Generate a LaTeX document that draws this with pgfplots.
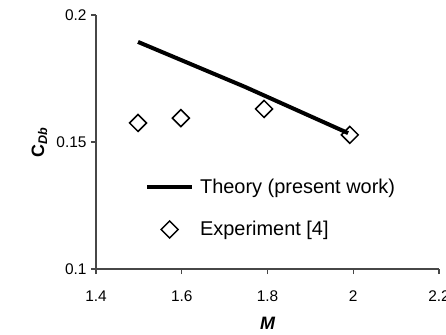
\documentclass[border=0pt]{standalone}
\usepackage{pgfplots}
\pgfplotsset{compat=1.18}
\usepackage{fontspec}
\setmainfont{Liberation Sans}
\pgfplotsset{
  longline/.style={legend image code/.code={\draw[##1] (0bp,0bp) -- (45bp,0bp);}},
  longmark/.style={legend image code/.code={\draw[mark repeat=2,mark phase=2,##1] plot coordinates {(0bp,0bp) (22.5bp,0bp) (45bp,0bp)};}},
}
\begin{document}
\begin{tikzpicture}
\path[use as bounding box] (-96bp,-66bp) rectangle (350bp,269bp);
\begin{axis}[
  at={(0,0)}, anchor=south west,
  scale only axis, width=343bp, height=254bp,
  xmin=1.4, xmax=2.2, ymin=0.1, ymax=0.2,
  xtick={1.4,1.6,1.8,2,2.2}, ytick={0.1,0.15,0.2},
  xticklabels={1.4,1.6,1.8,2,2.2}, yticklabels={0.1,0.15,0.2},
  axis lines=left, axis line style={-, black!72, line width=1.4bp},
  tick style={black!72, line width=1.2bp}, tick align=outside, major tick length=5bp,
  /pgf/number format/assume math mode=true,
  tick label style={font=\fontsize{15.5}{19}\selectfont},
  xticklabel style={anchor=north, yshift=-13bp},
  yticklabel style={anchor=east, xshift=-1bp},
  xlabel={\textbf{\textit{M}}},
  xlabel style={at={(axis description cs:0.501,-0.213)}, anchor=center, font=\fontsize{18}{22}\selectfont},
  ylabel={\textbf{C}\textsubscript{\textbf{\textit{Db}}}},
  ylabel style={at={(axis description cs:-0.165,0.5)}, anchor=center, font=\fontsize{18}{22}\selectfont},
  clip=false,
  legend cell align=left,
  legend style={draw=none, fill=none, at={(axis description cs:0.134,0.238)}, anchor=west,
    font=\fontsize{20}{24}\selectfont, row sep=26bp, column sep=6bp,
    nodes={inner sep=0pt}},
]
\addplot[black, line width=4bp, longline]
  coordinates {(1.498,0.1894) (1.7475,0.1717) (1.988,0.1535)};
\addlegendentry{Theory (present work)}
\addplot[only marks, mark=square, mark size=6bp, black, line width=1.5bp,
  mark options={rotate=45, fill=white}, longmark]
  coordinates {(1.498,0.1575) (1.598,0.1594) (1.792,0.163) (1.992,0.1528)};
\addlegendentry{Experiment [4]}
\end{axis}
\end{tikzpicture}
\end{document}
